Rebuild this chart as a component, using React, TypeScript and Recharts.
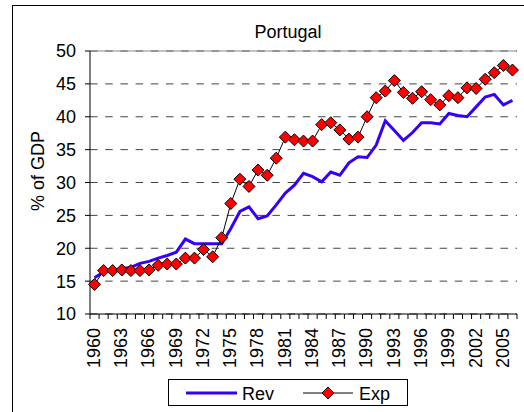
import React from "react";
import {
  LineChart,
  Line,
  XAxis,
  YAxis,
  CartesianGrid,
  ReferenceLine,
  Legend,
} from "recharts";

const YEARS: string[] = [
  "1960","1961","1962","1963","1964","1965","1966","1967","1968","1969",
  "1970","1971","1972","1973","1974","1975","1976","1977","1978","1979",
  "1980","1981","1982","1983","1984","1985","1986","1987","1988","1989",
  "1990","1991","1992","1993","1994","1995","1996","1997","1998","1999",
  "2000","2001","2002","2003","2004","2005","2006",
];

const REV: number[] = [
  15.5, 16.4, 16.6, 16.9, 17.1, 17.7, 18.0, 18.5, 18.9, 19.4,
  21.4, 20.7, 20.7, 20.7, 20.7, 23.0, 25.6, 26.3, 24.5, 24.9,
  26.6, 28.4, 29.6, 31.4, 30.9, 30.1, 31.6, 31.1, 33.0, 33.9,
  33.8, 35.7, 39.4, 37.9, 36.4, 37.6, 39.1, 39.1, 38.9, 40.5,
  40.2, 40.0, 41.5, 43.0, 43.4, 41.8, 42.5,
];

const EXP: number[] = [
  14.5, 16.6, 16.6, 16.7, 16.6, 16.6, 16.7, 17.4, 17.6, 17.6,
  18.5, 18.5, 19.8, 18.7, 21.6, 26.8, 30.5, 29.4, 31.9, 31.1,
  33.7, 36.9, 36.5, 36.3, 36.3, 38.8, 39.1, 38.0, 36.6, 36.9,
  40.0, 42.9, 43.9, 45.5, 43.7, 42.8, 43.8, 42.6, 41.8, 43.2,
  42.9, 44.4, 44.3, 45.7, 46.7, 47.8, 47.1,
];

const Y_TICKS: number[] = [10, 15, 20, 25, 30, 35, 40, 45, 50];
const LABEL_EVERY = 3;

const data = YEARS.map((year, i) => ({ year, rev: REV[i], exp: EXP[i] }));

const FONT = "'Liberation Sans', Arial, sans-serif";
const REV_COLOR = "#3300FF";
const EXP_FILL = "#FF0000";

const Diamond = (props: any) => {
  const { cx, cy, size = 6 } = props;
  if (cx == null || cy == null) return null;
  const d = `M${cx},${cy - size} L${cx + size},${cy} L${cx},${cy + size} L${cx - size},${cy} Z`;
  return <path d={d} fill={EXP_FILL} stroke="#000" strokeWidth={1} />;
};

const XTick = (props: any) => {
  const { x, y, payload, index, width } = props;
  const half =
    payload && payload.offset > 0 ? payload.offset : width / YEARS.length / 2;
  const last = index === YEARS.length - 1;
  const showLabel = index % LABEL_EVERY === 0;
  return (
    <g>
      <line x1={x - half} x2={x - half} y1={y} y2={y + 5} stroke="#000" />
      {last && <line x1={x + half} x2={x + half} y1={y} y2={y + 5} stroke="#000" />}
      {showLabel && (
        <text
          x={x}
          y={y + 14}
          transform={`rotate(-90 ${x} ${y + 14})`}
          textAnchor="end"
          dy="0.3em"
          fontSize={18}
          fontFamily={FONT}
          fill="#000"
        >
          {payload.value}
        </text>
      )}
    </g>
  );
};

const LegendBox = () => (
  <svg width={240} height={27} style={{ display: "block" }}>
    <rect x={0.5} y={0.5} width={239} height={26} fill="#fff" stroke="#000" />
    <line x1={18} x2={69} y1={14} y2={14} stroke={REV_COLOR} strokeWidth={3} />
    <text x={74} y={20.5} fontSize={18} fontFamily={FONT} fill="#000">Rev</text>
    <line x1={135} x2={185} y1={14} y2={14} stroke="#000" strokeWidth={1} />
    <Diamond cx={160} cy={14} size={6} />
    <text x={191} y={20.5} fontSize={18} fontFamily={FONT} fill="#000">Exp</text>
  </svg>
);

export default function App() {
  return (
    <div
      style={{
        position: "absolute",
        left: 0,
        top: 0,
        width: 524,
        height: 412,
        overflow: "hidden",
        background: "#fff",
      }}
    >
      <div
        style={{
          position: "absolute",
          left: 12,
          top: 5,
          width: 560,
          height: 460,
          border: "1px solid #000",
          boxSizing: "border-box",
        }}
      />
      <LineChart
        width={524}
        height={412}
        data={data}
        margin={{ top: 51, right: 7, bottom: 0, left: 0 }}
        style={{ position: "absolute", left: 0, top: 0 }}
      >
        <CartesianGrid
          yAxisId="left"
          vertical={false}
          stroke="#444"
          strokeDasharray="7.5 7.7"
        />
        <XAxis
          dataKey="year"
          scale="band"
          interval={0}
          height={98}
          tickSize={0}
          tickMargin={0}
          tickLine={false}
          axisLine={{ stroke: "#000" }}
          tick={<XTick />}
        />
        <YAxis
          yAxisId="left"
          width={90}
          domain={[10, 50]}
          ticks={Y_TICKS}
          interval={0}
          tickSize={5}
          tickMargin={9}
          axisLine={{ stroke: "#000" }}
          tickLine={{ stroke: "#000" }}
          tick={{ fontSize: 18, fontFamily: FONT, fill: "#000" }}
        />
        <YAxis
          yAxisId="right"
          orientation="right"
          width={0}
          domain={[10, 50]}
          tick={false}
          tickLine={false}
          axisLine={{ stroke: "#888" }}
        />
        <ReferenceLine yAxisId="left" y={50} stroke="#888" />
        <Line
          yAxisId="left"
          type="linear"
          dataKey="rev"
          name="Rev"
          stroke={REV_COLOR}
          strokeWidth={3}
          dot={false}
          activeDot={false}
          isAnimationActive={false}
        />
        <Line
          yAxisId="left"
          type="linear"
          dataKey="exp"
          name="Exp"
          stroke="#000"
          strokeWidth={1}
          dot={<Diamond />}
          activeDot={false}
          isAnimationActive={false}
        />
        <Legend
          layout="horizontal"
          verticalAlign="middle"
          align="center"
          wrapperStyle={{ left: 168, top: 379, width: 240, height: 27 }}
          content={<LegendBox />}
        />
        <text
          x={288}
          y={38}
          textAnchor="middle"
          fontSize={18}
          fontFamily={FONT}
          fill="#000"
        >
          Portugal
        </text>
        <text
          x={44}
          y={171}
          textAnchor="middle"
          transform="rotate(-90 44 171)"
          fontSize={18}
          fontFamily={FONT}
          fill="#000"
        >
          % of GDP
        </text>
      </LineChart>
    </div>
  );
}
